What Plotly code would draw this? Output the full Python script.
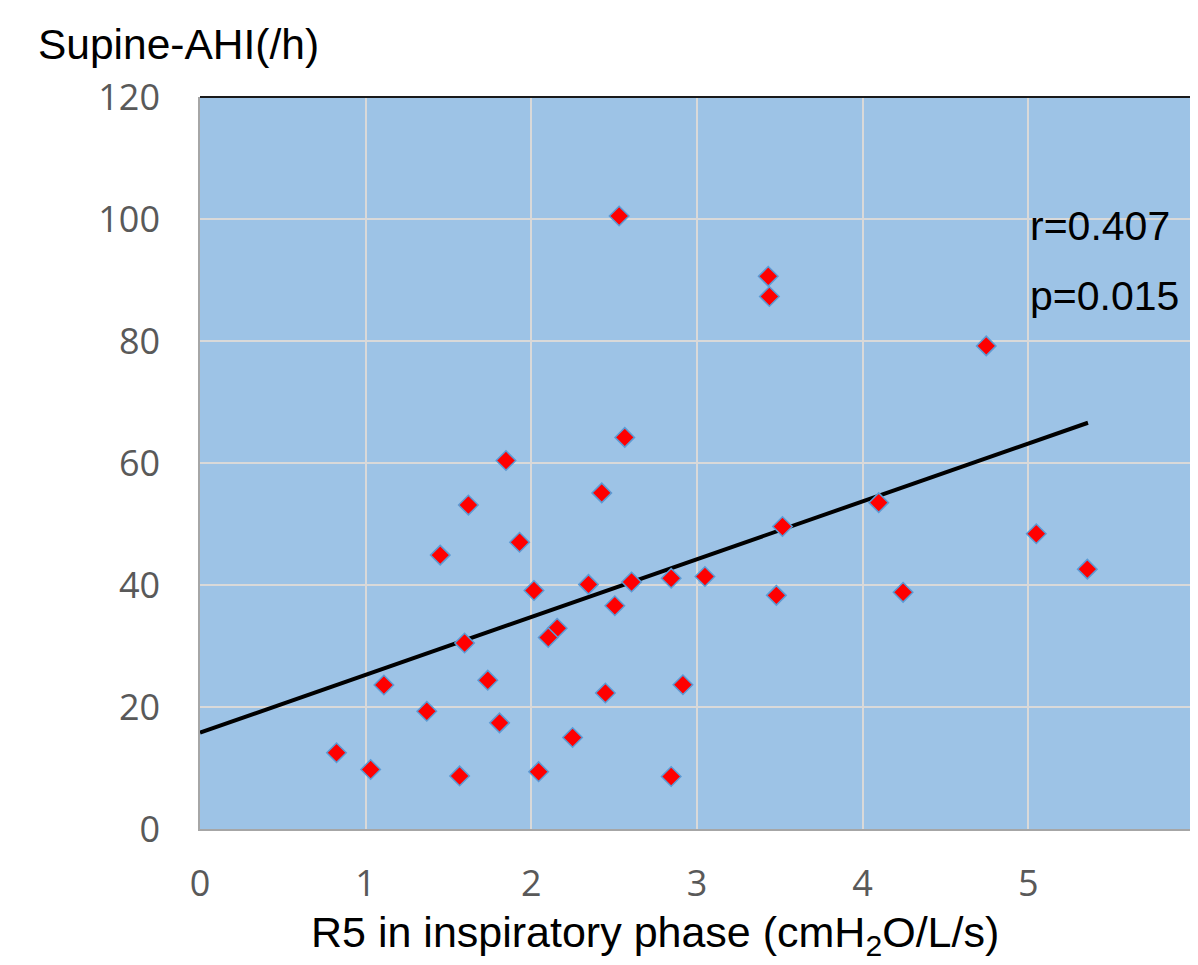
import plotly.graph_objects as go

# Data
r5_insp = [2.53, 3.43, 3.437, 4.746, 2.564, 1.847, 1.620, 2.425, 1.450, 1.929,
           2.016, 2.345, 2.605, 2.844, 2.504, 2.156, 2.102, 1.597, 1.110, 1.737,
           2.447, 2.915, 1.369, 1.808, 2.249, 0.824, 1.030, 1.567, 2.044, 2.844,
           3.048, 3.516, 3.479, 4.097, 4.244, 5.048, 5.356]
supine_ahi = [100.5, 90.6, 87.3, 79.2, 64.2, 60.4, 53.1, 55.1, 44.9, 47.0,
              39.1, 40.1, 40.5, 41.1, 36.6, 32.9, 31.4, 30.5, 23.6, 24.4,
              22.3, 23.65, 19.3, 17.4, 15.0, 12.5, 9.75, 8.7, 9.4, 8.6,
              41.4, 49.6, 38.3, 53.5, 38.8, 48.4, 42.6]

trend_x = [0.0, 5.36]
trend_y = [15.8, 66.6]

x_ticks = [0, 1, 2, 3, 4, 5, 6]
y_ticks = [0, 20, 40, 60, 80, 100, 120]

stats_text = ["r=0.407", "p=0.015"]

# the page body adds an 8px margin, so the figure is 8px smaller
W, H = 1190, 957
L, R, T, B = 192, 4, 89, 136
plot_w = W - L - R
plot_h = H - T - B

fig = go.Figure()

fig.add_trace(go.Scatter(
    x=trend_x, y=trend_y, mode="lines",
    line=dict(color="black", width=4),
    showlegend=False, hoverinfo="skip"))

fig.add_trace(go.Scatter(
    x=r5_insp, y=supine_ahi, mode="markers",
    marker=dict(symbol="diamond", size=15, color="#FF0000",
                line=dict(color="#5B9BD5", width=1.5)),
    showlegend=False))

tick_font = dict(family="Open Sans", size=36, color="#595959")

fig.update_layout(
    width=W, height=H,
    margin=dict(l=L, r=R, t=T, b=B),
    paper_bgcolor="white",
    plot_bgcolor="#9DC3E6",
    xaxis=dict(range=[0, 6], tickvals=x_ticks, ticktext=[str(v) for v in x_ticks],
               showgrid=True, gridcolor="#D9D9D9", gridwidth=1.5,
               zeroline=False, showline=True, linecolor="#A6A6A6", linewidth=1.5,
               ticks="", tickfont=tick_font, ticklabelstandoff=22, fixedrange=True),
    yaxis=dict(range=[0, 120], tickvals=y_ticks, ticktext=[str(v) for v in y_ticks],
               showgrid=True, gridcolor="#D9D9D9", gridwidth=1.5,
               zeroline=False, showline=True, linecolor="#A6A6A6", linewidth=1.5,
               ticks="", tickfont=tick_font, ticklabelstandoff=31, fixedrange=True),
    shapes=[
        dict(type="line", xref="paper", yref="paper", x0=0, x1=1, y0=1, y1=1,
             line=dict(color="#1a1a1a", width=1.8)),
        dict(type="line", xref="paper", yref="paper", x0=1, x1=1, y0=0, y1=1,
             line=dict(color="#1a1a1a", width=1.8)),
    ],
    annotations=[
        dict(text=stats_text[0], x=5.0, y=98.8, xref="x", yref="y",
             xanchor="left", yanchor="middle", showarrow=False,
             font=dict(family="Liberation Sans, Arial", size=41, color="black")),
        dict(text=stats_text[1], x=5.0, y=87.3, xref="x", yref="y",
             xanchor="left", yanchor="middle", showarrow=False,
             font=dict(family="Liberation Sans, Arial", size=41, color="black")),
        dict(text="R5 in inspiratory phase (cmH<sub>2</sub>O/L/s)",
             x=(655 - 200) / plot_w, y=-(935 - 829) / plot_h, xref="paper", yref="paper",
             xanchor="center", yanchor="middle", showarrow=False,
             font=dict(family="Liberation Sans, Arial", size=43, color="black")),
        dict(text="Supine-AHI(/h)",
             x=(36 - 200) / plot_w, y=(829 - 45) / plot_h, xref="paper", yref="paper",
             xanchor="left", yanchor="middle", showarrow=False,
             font=dict(family="Liberation Sans, Arial", size=42.5, color="black")),
    ],
)

fig.write_html("out.html")
